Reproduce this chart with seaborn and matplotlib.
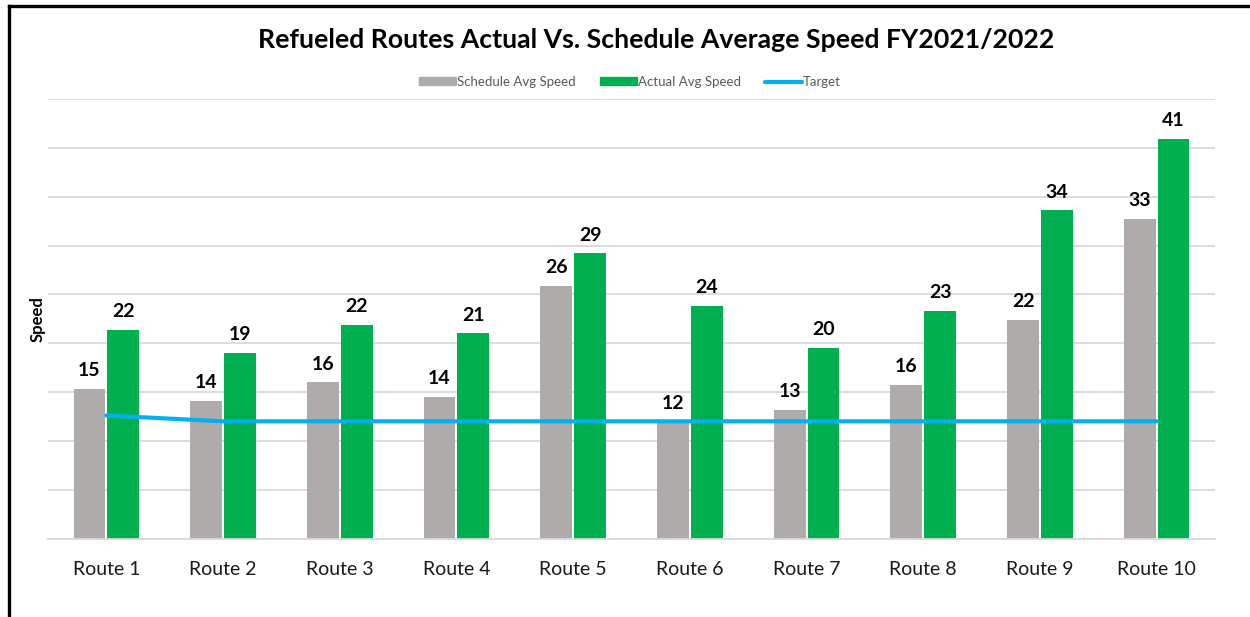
import pandas as pd
import matplotlib.pyplot as plt
import seaborn as sns
from matplotlib.patches import Patch
from matplotlib.lines import Line2D

# data
routes = [f'Route {i}' for i in range(1, 11)]
schedule_speed = [15.3, 14.1, 16.0, 14.5, 25.9, 12.0, 13.2, 15.7, 22.4, 32.7]
actual_speed = [21.4, 19.0, 21.9, 21.0, 29.2, 23.8, 19.5, 23.3, 33.6, 40.9]
schedule_labels = ['15', '14', '16', '14', '26', '12', '13', '16', '22', '33']
actual_labels = ['22', '19', '22', '21', '29', '24', '20', '23', '34', '41']
target = [12.6, 12.0, 12.0, 12.0, 12.0, 12.0, 12.0, 12.0, 12.0, 12.0]

c_sched = '#AFABAB'
c_actual = '#00B050'
c_target = '#00B0F0'

df = pd.DataFrame({
    'Route': routes * 2,
    'Speed': schedule_speed + actual_speed,
    'Series': ['Schedule Avg Speed'] * len(routes) + ['Actual Avg Speed'] * len(routes),
})

sns.set_theme(style='white')
plt.rcParams['font.family'] = ['Lato', 'DejaVu Sans']

fig = plt.figure(figsize=(12.5, 6.17), dpi=100)
ax = fig.add_axes([0.0384, 0.1272, 0.9336, 0.7123])

sns.barplot(data=df, x='Route', y='Speed', hue='Series',
            palette=[c_sched, c_actual], saturation=1, width=0.58, gap=0.06,
            linewidth=0, legend=False, ax=ax, zorder=2)
sns.lineplot(x=routes, y=target, color=c_target, linewidth=3,
             ax=ax, zorder=3, legend=False)

for cont, labs in zip(ax.containers, [schedule_labels, actual_labels]):
    ax.bar_label(cont, labels=labs, padding=7, fontsize=14,
                 fontweight='bold', color='black', zorder=4)

ax.set_ylim(0, 45)
ax.set_xlim(-0.5, len(routes) - 0.5)
ax.set_yticks(range(0, 46, 5))
ax.set_yticklabels([])
ax.tick_params(axis='y', length=0, pad=0)
ax.tick_params(axis='x', length=0, labelsize=14, pad=16, labelcolor='#1a1a1a')
ax.yaxis.grid(True, color='#D9D9D9', linewidth=1.3, zorder=0)
ax.set_axisbelow(True)
for s in ['top', 'right', 'left']:
    ax.spines[s].set_visible(False)
ax.spines['bottom'].set_color('#D9D9D9')
ax.spines['bottom'].set_linewidth(1.3)
ax.set_xlabel('')
ax.set_ylabel('Speed', fontsize=12, fontweight='bold', color='black', labelpad=2)

fig.suptitle('Refueled Routes Actual Vs. Schedule Average Speed FY2021/2022',
             x=0.525, y=0.955, fontsize=19.2, fontweight='bold', color='black')

handles = [Patch(color=c_sched, label='Schedule Avg Speed'),
           Patch(color=c_actual, label='Actual Avg Speed'),
           Line2D([], [], color=c_target, linewidth=3, label='Target')]
fig.legend(handles=handles, loc='center', bbox_to_anchor=(0.504, 0.867),
           ncol=3, frameon=False, fontsize=9.5, labelcolor='#595959',
           handlelength=2.8, handleheight=0.55, handletextpad=0.1, columnspacing=1.8)

# outer frame (only left and top edges fall inside the image)
fx = 8.5 / 1250
fy = 1 - 6.0 / 617
fig.add_artist(Line2D([fx, fx], [0, fy], transform=fig.transFigure,
                      color='black', linewidth=2.4, solid_capstyle='projecting'))
fig.add_artist(Line2D([fx, 0.999], [fy, fy], transform=fig.transFigure,
                      color='black', linewidth=2.4, solid_capstyle='projecting'))

fig.savefig('out.png', dpi=100)
